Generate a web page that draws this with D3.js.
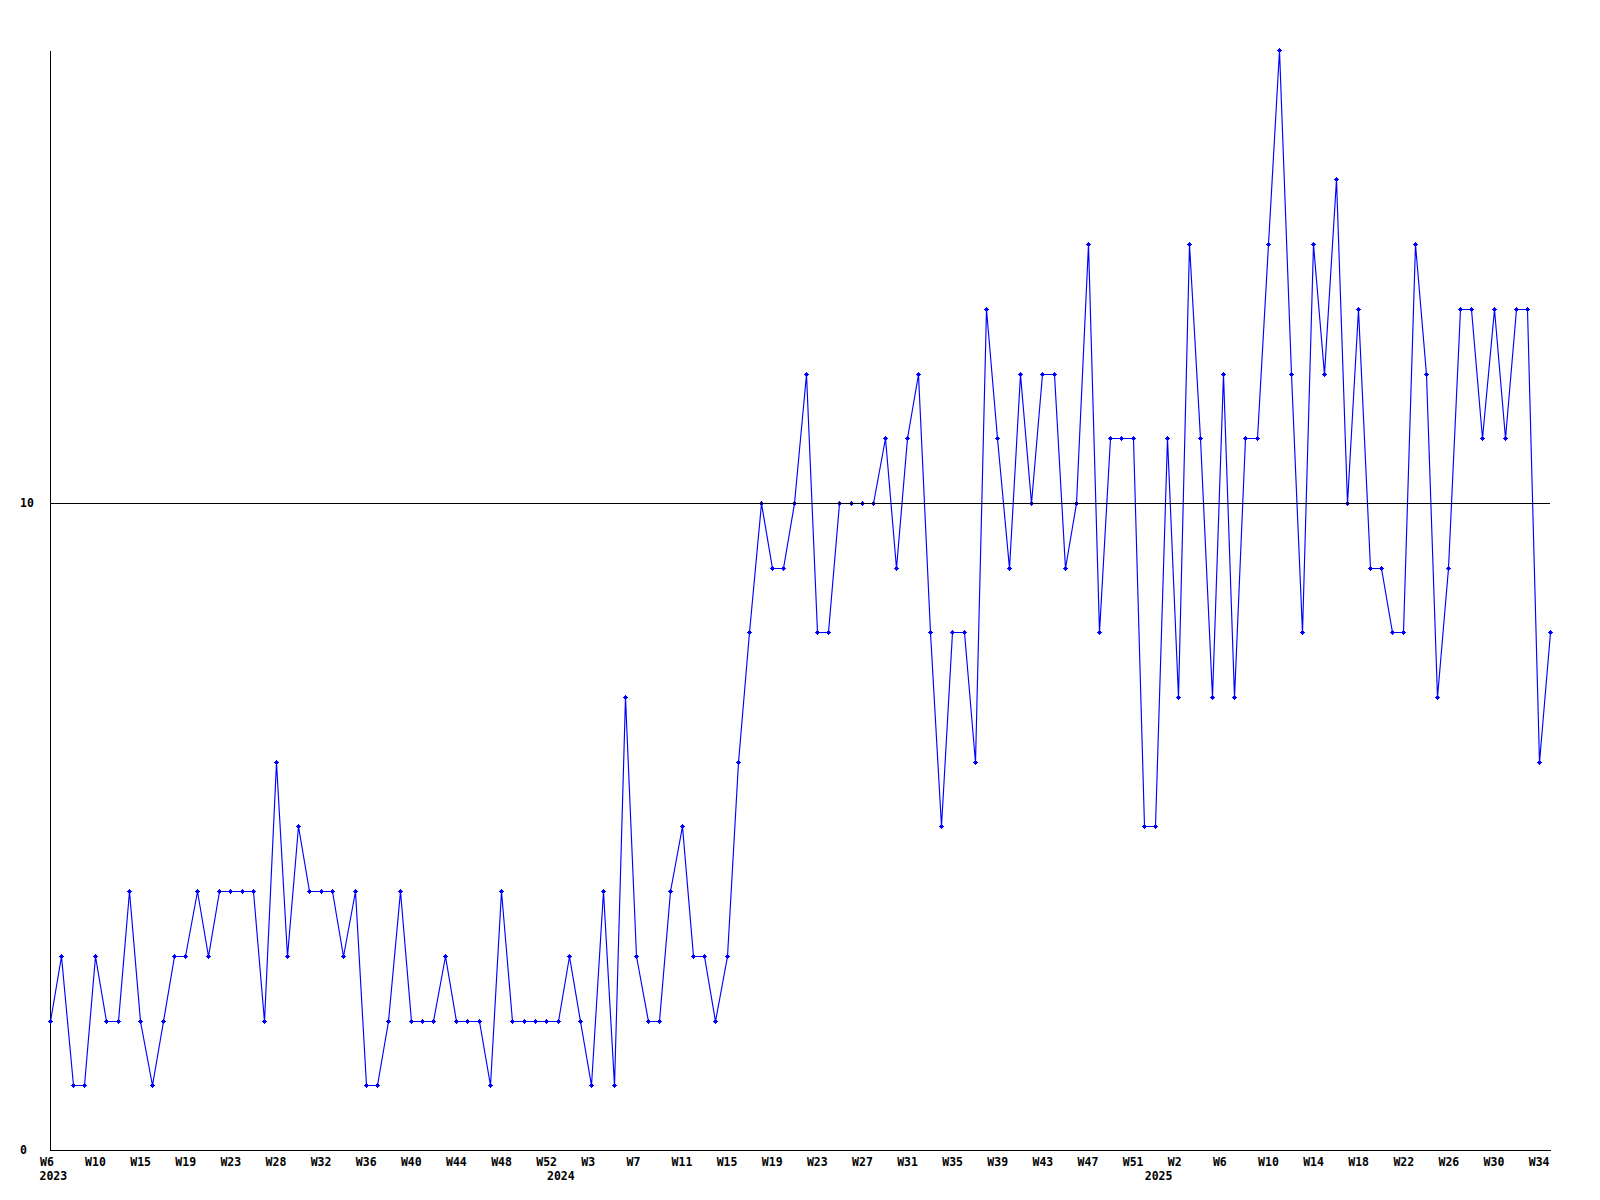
<!DOCTYPE html>
<html>
<head>
<meta charset="utf-8">
<script src="https://cdn.jsdelivr.net/npm/d3@7"></script>
<style>
  html, body { margin: 0; padding: 0; background: #fff; }
  svg { display: block; }
  text { font-family: "DejaVu Sans Mono", "Liberation Mono", monospace; font-weight: bold; font-size: 11.5px; fill: #000; }
</style>
</head>
<body>
<svg id="chart" width="1600" height="1200"></svg>
<script>
// Weekly values, W6 2023 .. W35 2025 (134 weeks)
const values = [
  2, 3, 1, 1, 3, 2, 2, 4, 2, 1,
  2, 3, 3, 4, 3, 4, 4, 4, 4, 2,
  6, 3, 5, 4, 4, 4, 3, 4, 1, 1,
  2, 4, 2, 2, 2, 3, 2, 2, 2, 1,
  4, 2, 2, 2, 2, 2, 3, 2, 1, 4,
  1, 7, 3, 2, 2, 4, 5, 3, 3, 2,
  3, 6, 8, 10, 9, 9, 10, 12, 8, 8,
  10, 10, 10, 10, 11, 9, 11, 12, 8, 5,
  8, 8, 6, 13, 11, 9, 12, 10, 12, 12,
  9, 10, 14, 8, 11, 11, 11, 5, 5, 11,
  7, 14, 11, 7, 12, 7, 11, 11, 14, 17,
  12, 8, 14, 12, 15, 10, 13, 9, 9, 8,
  8, 14, 12, 7, 9, 13, 13, 11, 13, 11,
  13, 13, 6, 8
];

// Week tick labels (every 4th point)
const weekTickIndex = [0, 4, 8, 12, 16, 20, 24, 28, 32, 36, 40, 44, 48, 52, 56, 60, 64,
                       68, 72, 76, 80, 84, 88, 92, 96, 100, 104, 108, 112, 116, 120, 124, 128, 132];
const weekTickLabels = ["W6", "W10", "W15", "W19", "W23", "W28", "W32", "W36", "W40", "W44", "W48", "W52",
                        "W3", "W7", "W11", "W15", "W19", "W23", "W27", "W31", "W35", "W39", "W43", "W47",
                        "W51", "W2", "W6", "W10", "W14", "W18", "W22", "W26", "W30", "W34"];

// Year labels and the point index they sit under
const yearLabels = ["2023", "2024", "2025"];
const yearIndex = [0, 45, 98];

// Y tick values
const yTicks = [0, 10];
const yMax = 17;

const svg = d3.select("#chart");

const x = d3.scaleLinear().domain([0, values.length - 1]).range([50, 1550]);
const y = d3.scaleLinear().domain([0, yMax]).range([1150, 50]);

// Axes
const xAxis = d3.axisBottom(x)
  .tickValues(weekTickIndex)
  .tickFormat((d, i) => weekTickLabels[i])
  .tickSize(0)
  .tickSizeOuter(0);

const gx = svg.append("g")
  .attr("transform", `translate(0,${y(0)})`)
  .call(xAxis);
gx.select(".domain").attr("stroke", "#000").attr("stroke-width", 1).attr("shape-rendering", "crispEdges");
gx.selectAll(".tick text")
  .attr("text-anchor", "start")
  .attr("dx", -10.5)
  .attr("dy", 0)
  .attr("y", 16)
  .style("font-family", '"DejaVu Sans Mono", "Liberation Mono", monospace')
  .style("font-weight", "bold")
  .style("font-size", "11.5px")
  .attr("fill", "#000");

const yAxis = d3.axisLeft(y)
  .tickValues(yTicks)
  .tickFormat(d3.format("d"))
  .tickSize(0)
  .tickSizeOuter(0);

const gy = svg.append("g")
  .attr("transform", `translate(${x(0)},0)`)
  .call(yAxis);
gy.select(".domain").attr("stroke", "#000").attr("stroke-width", 1).attr("shape-rendering", "crispEdges");
gy.selectAll(".tick text")
  .attr("text-anchor", "start")
  .attr("x", -30)
  .attr("dy", "0.32em")
  .style("font-family", '"DejaVu Sans Mono", "Liberation Mono", monospace')
  .style("font-weight", "bold")
  .style("font-size", "11.5px")
  .attr("fill", "#000");

// Year labels
svg.append("g").selectAll("text.year")
  .data(yearLabels)
  .join("text")
  .attr("class", "year")
  .attr("x", (d, i) => x(yearIndex[i]) - 10.5)
  .attr("y", y(0) + 30)
  .attr("text-anchor", "start")
  .text(d => d);

// Data line
const line = d3.line()
  .x((d, i) => Math.round(x(i)) + 0.5)
  .y(d => Math.round(y(d)) + 0.5);

svg.append("path")
  .datum(values)
  .attr("d", line)
  .attr("fill", "none")
  .attr("stroke", "#0000ff")
  .attr("stroke-width", 1.15);

// Markers (small crosses)
const mk = svg.append("g").attr("fill", "#0000ff").attr("shape-rendering", "crispEdges");
const pts = mk.selectAll("g.pt")
  .data(values)
  .join("g")
  .attr("class", "pt")
  .attr("transform", (d, i) => `translate(${Math.round(x(i))},${Math.round(y(d))})`);
pts.append("rect").attr("x", -2).attr("y", 0).attr("width", 5).attr("height", 1);
pts.append("rect").attr("x", 0).attr("y", -2).attr("width", 1).attr("height", 5);
pts.append("rect").attr("x", -1).attr("y", -1).attr("width", 3).attr("height", 3);

// Reference line at 10 (drawn above data)
svg.append("line")
  .attr("x1", x(0)).attr("x2", x(values.length - 1))
  .attr("y1", Math.round(y(10)) + 0.5).attr("y2", Math.round(y(10)) + 0.5)
  .attr("stroke", "#000")
  .attr("stroke-width", 1)
  .attr("shape-rendering", "crispEdges");
</script>
</body>
</html>
